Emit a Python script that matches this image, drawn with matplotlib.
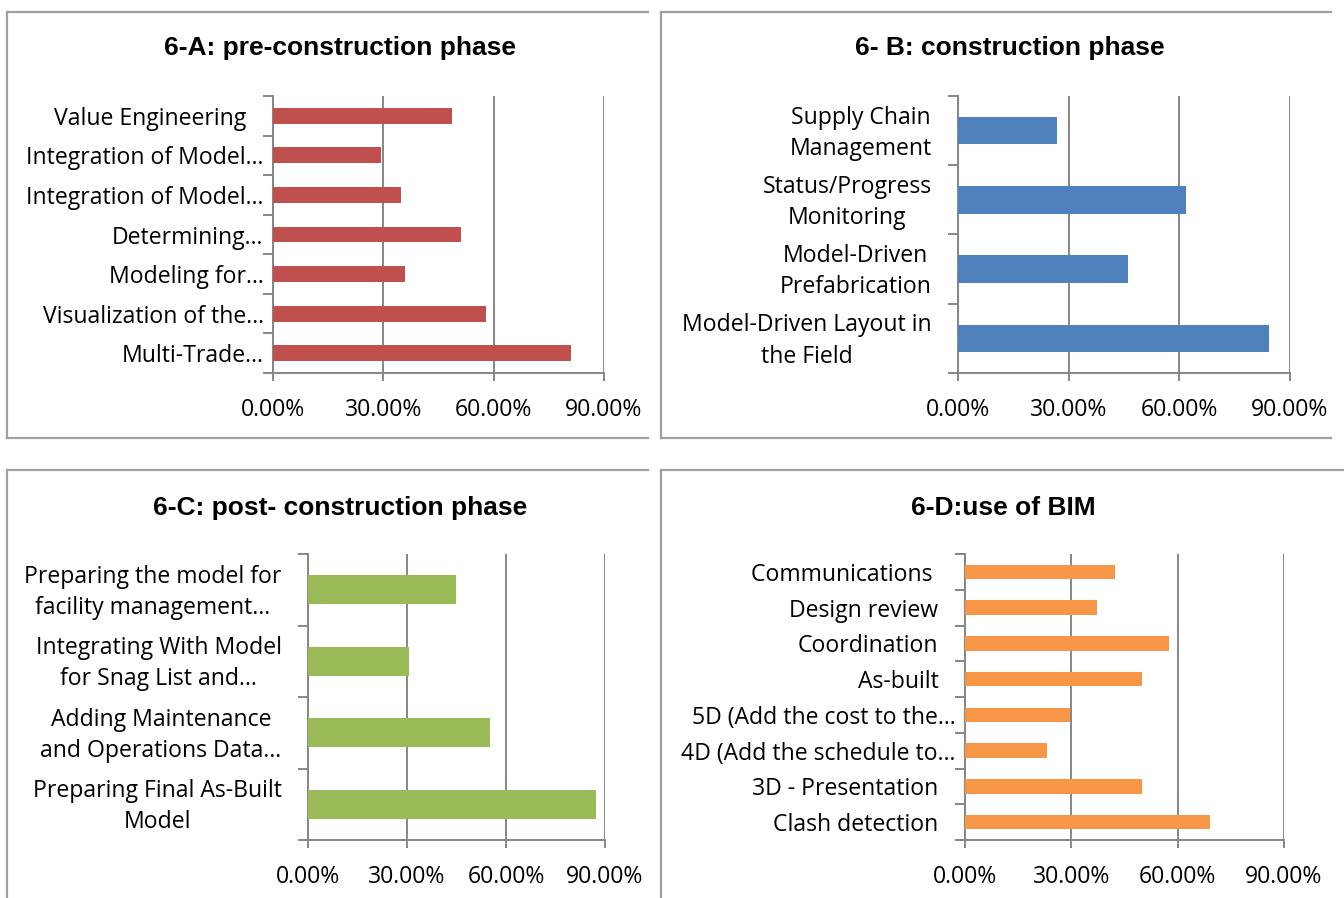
import matplotlib
matplotlib.use("Agg")
import matplotlib.pyplot as plt
import matplotlib.transforms as mtransforms
from matplotlib.lines import Line2D
from matplotlib.ticker import FixedLocator

# ---------------- data ----------------
a_title = "6-A: pre-construction phase"
a_labels = ["Value Engineering", "Integration of Model…", "Integration of Model…",
            "Determining…", "Modeling for…", "Visualization of the…", "Multi-Trade…"]
a_values = [48.6, 29.5, 34.7, 51.2, 35.9, 57.8, 80.9]

b_title = "6- B: construction phase"
b_labels = ["Supply Chain\nManagement", "Status/Progress\nMonitoring",
            "Model-Driven\nPrefabrication", "Model-Driven Layout in\nthe Field"]
b_values = [26.9, 61.7, 46.1, 84.4]

c_title = "6-C: post- construction phase"
c_labels = ["Preparing the model for\nfacility management…",
            "Integrating With Model\nfor Snag List and…",
            "Adding Maintenance\nand Operations Data…",
            "Preparing Final As-Built\nModel"]
c_values = [44.9, 30.7, 55.0, 87.2]

d_title = "6-D:use of BIM"
d_labels = ["Communications ", "Design review", "Coordination", "As-built",
            "5D (Add the cost to the…", "4D (Add the schedule to…",
            "3D - Presentation", "Clash detection"]
d_values = [42.2, 37.2, 57.6, 49.9, 29.5, 23.0, 49.9, 69.1]

x_ticks = [0, 30, 60, 90]
x_ticklabels = ["0.00%", "30.00%", "60.00%", "90.00%"]

colors = {"a": "#C0504D", "b": "#4F81BD", "c": "#9BBB59", "d": "#F79646"}

# ---------------- layout ----------------
W, H = 1344, 898
fig = plt.figure(figsize=(W / 100, H / 100), dpi=100)
fig.patch.set_facecolor("white")

LABEL_FONT = ["Open Sans", "DejaVu Sans"]
TITLE_FONT = ["Liberation Sans", "DejaVu Sans"]
GRID = "#868686"
FS = 16.6


def px_axes(x0, y0, x1, y1):
    return fig.add_axes([x0 / W, 1 - y1 / H, (x1 - x0) / W, (y1 - y0) / H])


def border(x0, y0, x1, y1, bottom=True):
    kw = dict(color="#A0A0A0", lw=1.6, transform=fig.transFigure)
    fig.add_artist(Line2D([x0 / W, x1 / W], [1 - y0 / H, 1 - y0 / H], **kw))
    fig.add_artist(Line2D([x0 / W, x0 / W], [1 - y0 / H, 1 - y1 / H], **kw))
    if bottom:
        fig.add_artist(Line2D([x0 / W, x1 / W], [1 - y1 / H, 1 - y1 / H], **kw))


def panel(box, labels, values, color, title, title_xy, label_pad=19):
    ax = px_axes(*box)
    n = len(labels)
    ypos = list(range(n))
    ax.barh(ypos, values, height=0.4, color=color, zorder=3)
    ax.set_xlim(0, 90)
    ax.set_ylim(n - 0.5, -0.5)
    ax.set_facecolor("none")
    for s in ["top", "right"]:
        ax.spines[s].set_visible(False)
    for s in ["left", "bottom"]:
        ax.spines[s].set_color(GRID)
        ax.spines[s].set_linewidth(1.4)
    ax.set_xticks(x_ticks)
    ax.set_xticklabels(x_ticklabels, fontsize=FS, family=LABEL_FONT)
    ax.tick_params(axis="x", length=6, width=1.4, color=GRID, pad=12)
    ax.grid(axis="x", color=GRID, lw=1.4, zorder=0)
    ax.set_yticks(ypos)
    ax.set_yticklabels(labels, fontsize=FS, family=LABEL_FONT,
                       multialignment="center", linespacing=1.4)
    ax.tick_params(axis="y", which="major", length=0, pad=label_pad)
    ax.yaxis.set_minor_locator(FixedLocator([i - 0.5 for i in range(n + 1)]))
    ax.tick_params(axis="y", which="minor", length=7, width=1.4, color=GRID)
    for t in ax.get_yticklabels():
        txt = t.get_text()
        if txt.endswith("…") and "\n" not in txt:
            # single-line truncated labels sit closer to the axis
            t.set_transform(t.get_transform() + mtransforms.ScaledTranslation(
                0.17, 0, fig.dpi_scale_trans))
        elif "\n" in txt:
            # wrapped labels sit slightly higher
            t.set_transform(t.get_transform() + mtransforms.ScaledTranslation(
                0, 0.04, fig.dpi_scale_trans))
    fig.text(title_xy[0] / W, 1 - title_xy[1] / H, title, ha="center", va="center",
             fontsize=19, fontweight="bold", family=TITLE_FONT)
    return ax


border(7, 12, 648, 438)
border(661, 12, 1331, 438)
border(7, 470, 648, 905, bottom=False)
border(661, 470, 1344, 905, bottom=False)

panel((273, 96, 604, 373), a_labels, a_values, colors["a"], a_title, (340, 48))
panel((958, 96, 1290, 373), b_labels, b_values, colors["b"], b_title, (1010, 48))
panel((308, 554, 605, 840), c_labels, c_values, colors["c"], c_title, (340, 508))
panel((965, 554, 1284, 840), d_labels, d_values, colors["d"], d_title, (1003, 508))

fig.savefig("out.png", dpi=100)
